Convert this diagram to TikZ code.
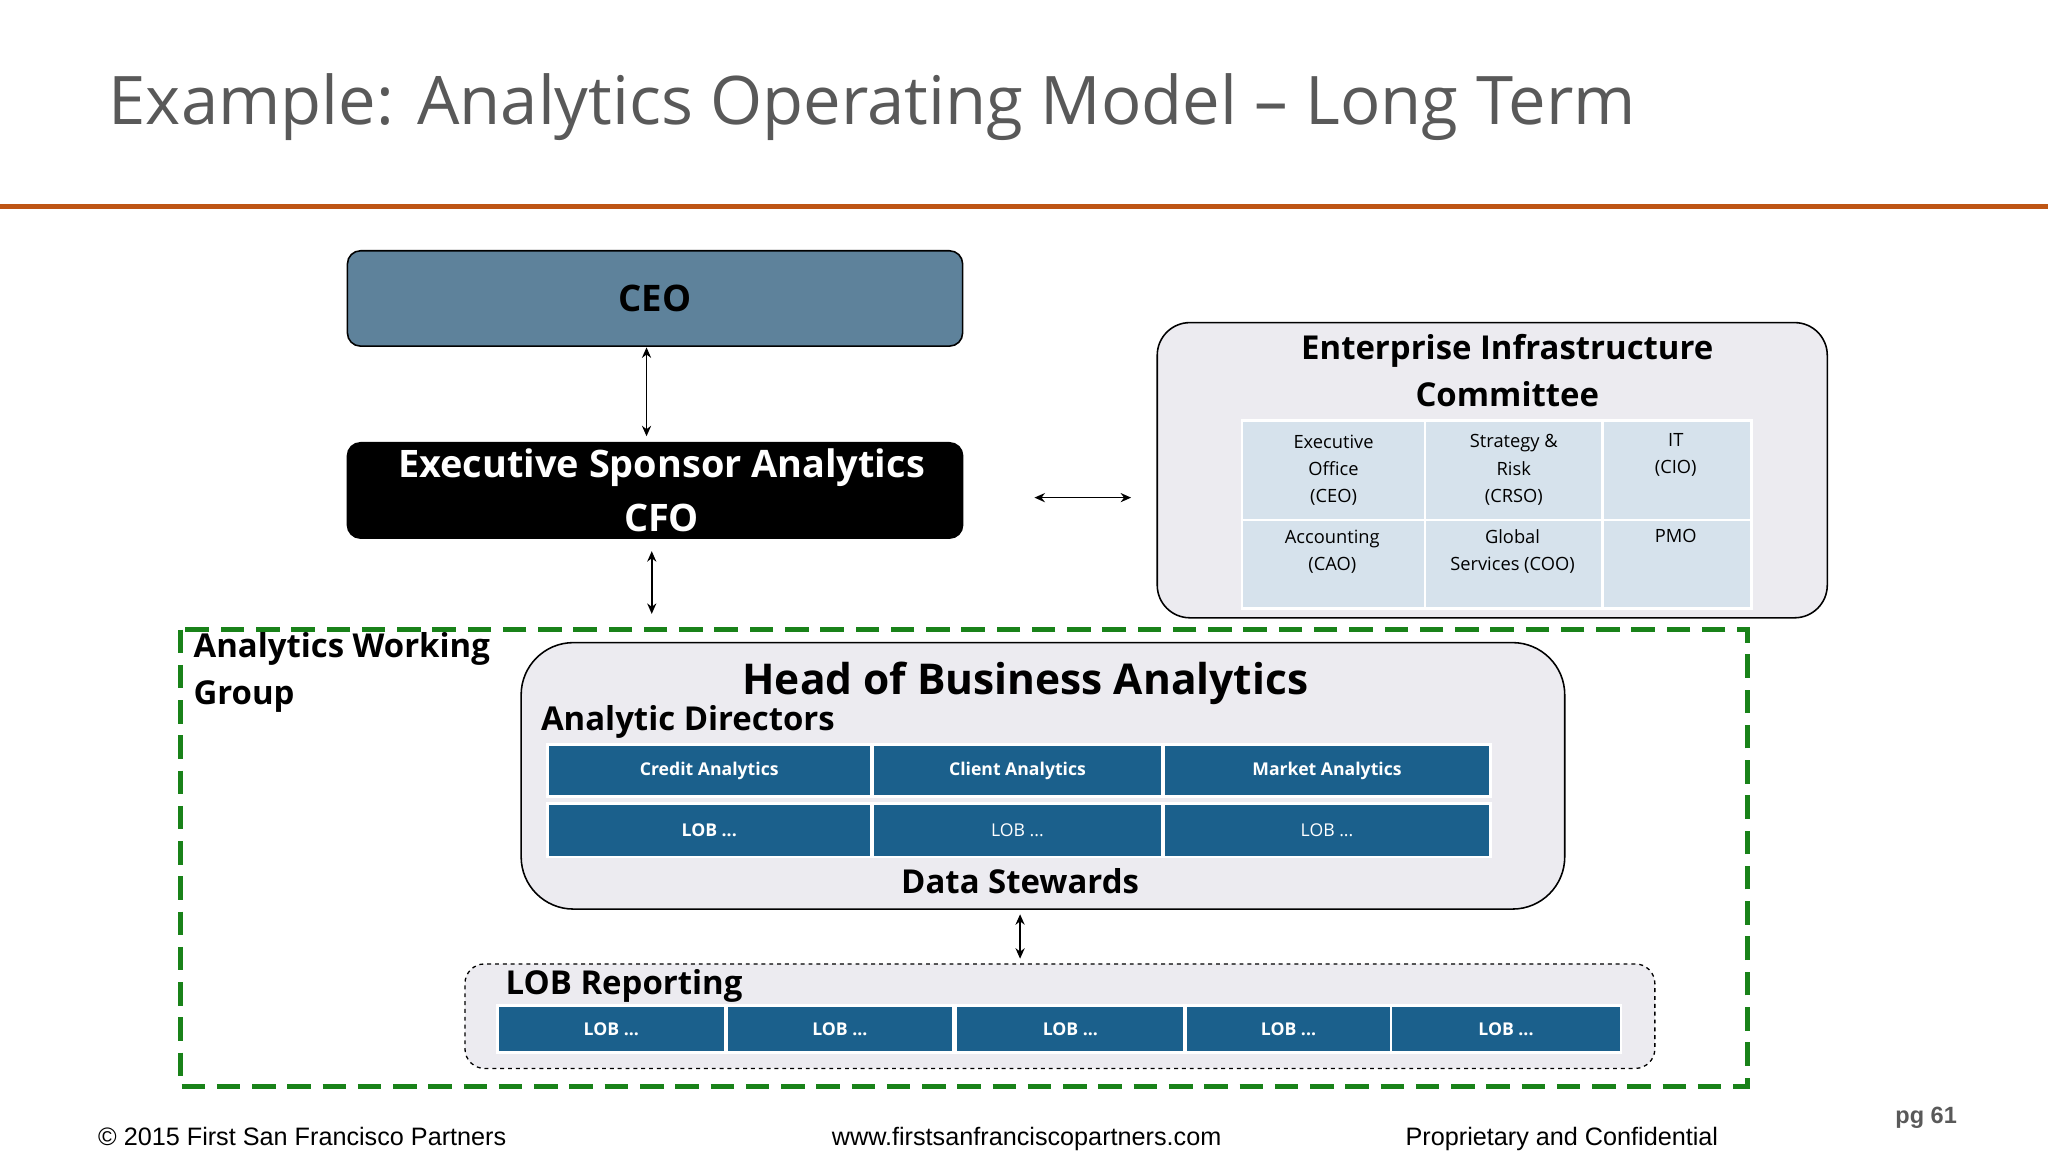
\documentclass[tikz,border=0pt]{standalone}
\usepackage{fontspec}
\setmainfont{Open Sans}
\newfontfamily\arialf{Liberation Sans}
\usetikzlibrary{arrows.meta}
\definecolor{ttl}{RGB}{89,89,89}
\definecolor{orln}{RGB}{190,85,20}
\definecolor{ceoc}{RGB}{94,130,155}
\definecolor{panel}{RGB}{236,235,240}
\definecolor{lblue}{RGB}{214,226,236}
\definecolor{dblue}{RGB}{27,96,140}
\definecolor{grn}{RGB}{25,130,25}
\tikzset{
  dbl/.style={{Stealth[length=8pt,width=7pt]}-{Stealth[length=8pt,width=7pt]},line width=1.3pt},
  panelbox/.style={draw=black,line width=1.2pt,fill=panel,rounded corners=25pt},
  lcell/.style={draw=white,line width=2pt,fill=lblue,font=\fontsize{14}{21}\selectfont,align=center,anchor=north west,inner sep=0pt},
  dcell/.style={draw=white,line width=2pt,fill=dblue,text=white,font=\bfseries\fontsize{13.5}{18}\selectfont,anchor=north west,inner sep=0pt},
  hd/.style={font=\bfseries\fontsize{25.2}{36}\selectfont}
}
\begin{document}
\begin{tikzpicture}[x=1pt,y=-1pt]
\useasboundingbox[fill=white] (0,0) rectangle (1568,882);
\node[anchor=base west,text=ttl,font=\fontsize{51.3}{62}\selectfont,inner sep=0] (title) at (83,95) {Example: Analytics Operating Model -- Long Term};
\fill[orln] (0,156) rectangle (1568,160);
% CEO
\node[draw=black,line width=1.2pt,fill=ceoc,rounded corners=10pt,minimum width=471pt,minimum height=73pt,inner sep=0,font=\bfseries\fontsize{28}{36}\selectfont] (ceo) at (501.5,228.5) {CEO};
\node[draw=black,line width=1.2pt,fill=black,rounded corners=10pt,minimum width=471pt,minimum height=73pt,inner sep=0] (esa) at (501.5,375.5) {};
\node[text=white,align=center,inner sep=0,font=\bfseries\fontsize{29}{41}\selectfont] (esat) at (506.5,375.5) {Executive Sponsor Analytics\\CFO};
\coordinate (a1) at (495,266);
\coordinate (a2) at (495,334);
\draw[dbl] (a1) -- (a2);
% EIC
\node[panelbox,minimum width=513pt,minimum height=226pt] (eic) at (1142.5,360) {};
\node[hd,align=center] (eict) at (1154,284) {Enterprise Infrastructure\\Committee};
\node[lcell,minimum width=140pt,minimum height=76pt] (c11) at (950,321) {Executive\\Office\\(CEO)};
\node[lcell,minimum width=136pt,minimum height=76pt] (c12) at (1090,321) {Strategy \&\\Risk\\(CRSO)};
\node[lcell,minimum width=114pt,minimum height=76pt,anchor=north west] (c13) at (1226,321) {};
\node[font=\fontsize{14}{21}\selectfont,align=center,anchor=north] at (1283,328) {IT\\(CIO)};
\node[lcell,minimum width=140pt,minimum height=68pt] (c21) at (950,397) {};
\node[font=\fontsize{14}{21}\selectfont,align=center,anchor=north] at (1020,402) {Accounting\\(CAO)};
\node[lcell,minimum width=136pt,minimum height=68pt] (c22) at (1090,397) {};
\node[font=\fontsize{14}{21}\selectfont,align=center,anchor=north] at (1158,402) {Global\\Services (COO)};
\node[lcell,minimum width=114pt,minimum height=68pt] (c23) at (1226,397) {};
\node[font=\fontsize{14}{21}\selectfont,anchor=north] at (1283,402) {PMO};
\coordinate (b1) at (792,381);
\coordinate (b2) at (866,381);
\draw[dbl] (b1) -- (b2);
\coordinate (d1) at (499,422);
\coordinate (d2) at (499,470);
\draw[dbl] (d1) -- (d2);
% Green working group
\draw[grn,line width=4pt,dash pattern=on 18pt off 9pt] (138,482) rectangle (1338,832);
\node[hd,align=left,anchor=north west,inner sep=0] (awg) at (148,484) {Analytics Working\\Group};
% HBA
\node[panelbox,rounded corners=40pt,minimum width=799pt,minimum height=204pt] (hba) at (798.5,594) {};
\node[font=\bfseries\fontsize{32.5}{40}\selectfont] (hbat) at (785,523) {Head of Business Analytics};
\node[hd,anchor=west,inner sep=0] (ad) at (414,553) {Analytic Directors};
\node[dcell,minimum width=248pt,minimum height=40pt] (r11) at (418,569) {Credit Analytics};
\node[dcell,minimum width=222pt,minimum height=40pt] (r12) at (667,569) {Client Analytics};
\node[dcell,minimum width=250pt,minimum height=40pt] (r13) at (890,569) {Market Analytics};
\node[dcell,minimum width=248pt,minimum height=41pt] (r21) at (418,614) {LOB ...};
\node[dcell,minimum width=222pt,minimum height=41pt,font=\fontsize{13.5}{18}\selectfont] (r22) at (667,614) {LOB ...};
\node[dcell,minimum width=250pt,minimum height=41pt,font=\fontsize{13.5}{18}\selectfont] (r23) at (890,614) {LOB ...};
\node[hd] (ds) at (781,675) {Data Stewards};
\coordinate (e1) at (781,700);
\coordinate (e2) at (781,734);
\draw[dbl] (e1) -- (e2);
% LOB reporting
\node[draw=black,line width=1pt,dashed,fill=panel,rounded corners=15pt,minimum width=911pt,minimum height=80pt] (lob) at (811.5,778) {};
\node[hd,anchor=west,inner sep=0] (lobt) at (387,755) {LOB Reporting};
\node[dcell,minimum width=174pt,minimum height=36pt] at (380,769) {LOB ...};
\node[dcell,minimum width=174pt,minimum height=36pt] at (555,769) {LOB ...};
\node[dcell,minimum width=175pt,minimum height=36pt] at (731,769) {LOB ...};
\node[dcell,minimum width=157pt,minimum height=36pt] at (907,769) {LOB ...};
\node[dcell,minimum width=176pt,minimum height=36pt] at (1064,769) {LOB ...};
% footer
\node[anchor=base west,font=\arialf\fontsize{19.3}{22}\selectfont,inner sep=0] (f1) at (75,877) {© 2015 First San Francisco Partners};
\node[anchor=base,font=\arialf\fontsize{19.3}{22}\selectfont,inner sep=0] (f2) at (786,877) {www.firstsanfranciscopartners.com};
\node[anchor=base west,font=\arialf\fontsize{19.3}{22}\selectfont,inner sep=0] (f3) at (1076,877) {Proprietary and Confidential};
\node[anchor=base west,font=\arialf\bfseries\fontsize{18}{22}\selectfont,text=ttl,inner sep=0] (pg) at (1451,860) {pg 61};
\end{tikzpicture}
\end{document}
